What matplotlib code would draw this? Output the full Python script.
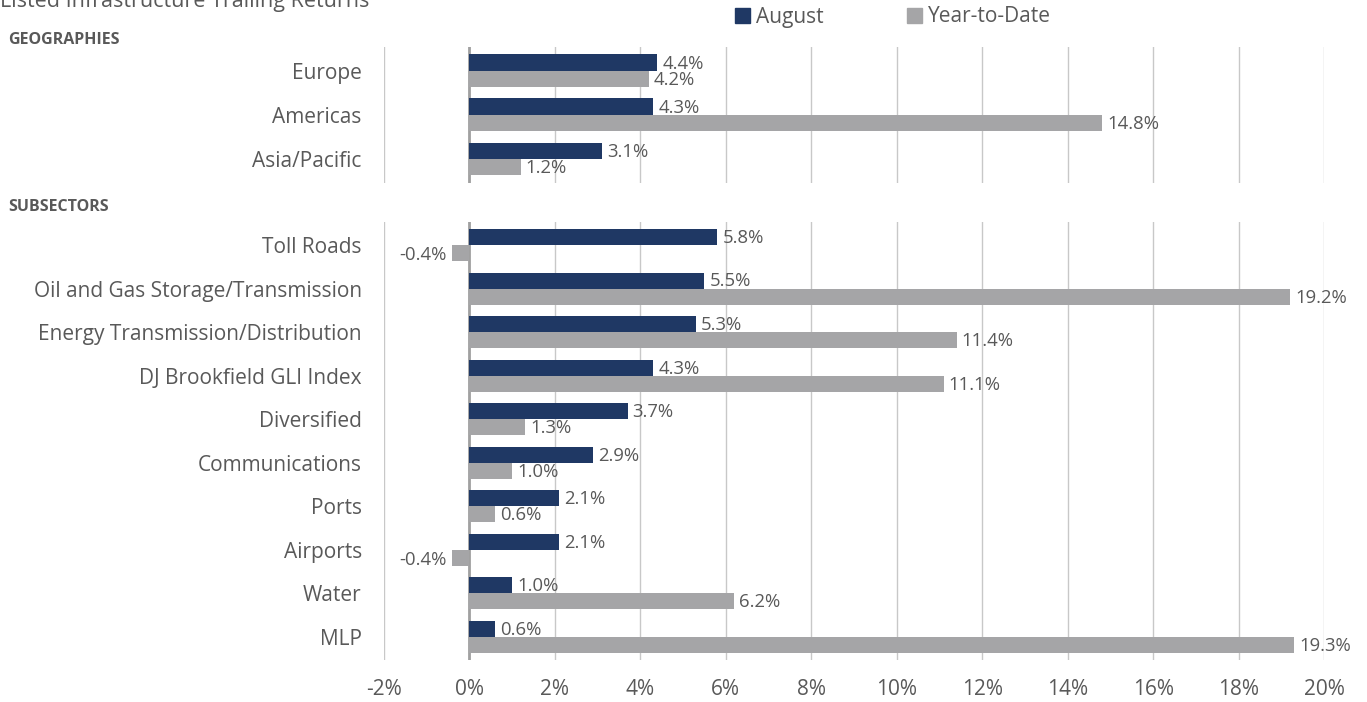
import numpy as np
import matplotlib
matplotlib.use("Agg")
import matplotlib.pyplot as plt
from matplotlib.patches import Patch

plt.rcParams['font.family'] = ['Open Sans', 'DejaVu Sans']

# data
geo_names = ["Europe", "Americas", "Asia/Pacific"]
geo_aug = [4.4, 4.3, 3.1]
geo_ytd = [4.2, 14.8, 1.2]

sub_names = ["Toll Roads", "Oil and Gas Storage/Transmission", "Energy Transmission/Distribution",
             "DJ Brookfield GLI Index", "Diversified", "Communications", "Ports", "Airports",
             "Water", "MLP"]
sub_aug = [5.8, 5.5, 5.3, 4.3, 3.7, 2.9, 2.1, 2.1, 1.0, 0.6]
sub_ytd = [-0.4, 19.2, 11.4, 11.1, 1.3, 1.0, 0.6, -0.4, 6.2, 19.3]

navy = "#1F3864"
grey = "#A5A5A7"
txt = "#595959"

fig = plt.figure(figsize=(13.67, 7.02), dpi=100)
W, H = 1367, 702
left, right = 384 / W, 1324 / W
ax1 = fig.add_axes([left, 1 - 183 / H, right - left, (183 - 47) / H])
ax2 = fig.add_axes([left, 1 - 660 / H, right - left, (660 - 222) / H])

h = 0.37


def draw(ax, names, aug, ytd, ylim):
    y = np.arange(len(names))
    ax.barh(y - h / 2, aug, height=h, color=navy, zorder=3)
    ax.barh(y + h / 2, ytd, height=h, color=grey, zorder=3)
    for yi, a, b in zip(y, aug, ytd):
        for v, yy in ((a, yi - h / 2), (b, yi + h / 2)):
            if v >= 0:
                ax.text(v + 0.12, yy + 0.02, f"{v:.1f}%", va='center', ha='left', fontsize=13.3, color=txt)
            else:
                ax.text(v - 0.14, yy + 0.05, f"{v:.1f}%", va='center', ha='right', fontsize=13.3, color=txt)
    ax.set_xlim(-2, 20)
    ax.set_ylim(*ylim)
    ax.set_yticks(y)
    ax.set_yticklabels(names, fontsize=15, color=txt)
    ax.tick_params(axis='y', length=0, pad=16)
    ax.set_xticks(np.arange(-2, 21, 2))
    ax.grid(axis='x', color="#C8C8C8", linewidth=1, zorder=0)
    ax.axvline(0, color="#A0A0A0", linewidth=2, zorder=2)
    for s in ax.spines.values():
        s.set_visible(False)


draw(ax1, geo_names, geo_aug, geo_ytd, (2.55, -0.54))
draw(ax2, sub_names, sub_aug, sub_ytd, (9.53, -0.53))

ax1.tick_params(axis='x', length=0, labelbottom=False)
ax2.tick_params(axis='x', length=0, pad=14, labelsize=15, labelcolor=txt)
ax2.set_xticklabels([f"{t}%" for t in range(-2, 21, 2)])

fig.text(0, 1 - 2 / H, "Listed Infrastructure Trailing Returns", fontsize=15.5, color=txt, va='center', ha='left')
fig.text(8 / W, 1 - 40 / H, "GEOGRAPHIES", fontsize=11.5, fontweight='bold', color=txt, va='center')
fig.text(8 / W, 1 - 207 / H, "SUBSECTORS", fontsize=11.5, fontweight='bold', color=txt, va='center')

handles = [Patch(color=navy, label="August"), Patch(color=grey, label="Year-to-Date")]
fig.legend(handles=handles, loc='center left', bbox_to_anchor=(725 / W, 1 - 17 / H), ncol=2,
           frameon=False, fontsize=15, labelcolor=txt, handlelength=0.7, handleheight=0.7,
           handletextpad=0.3, columnspacing=4.0, borderpad=0)

fig.savefig("out.png", dpi=100)
